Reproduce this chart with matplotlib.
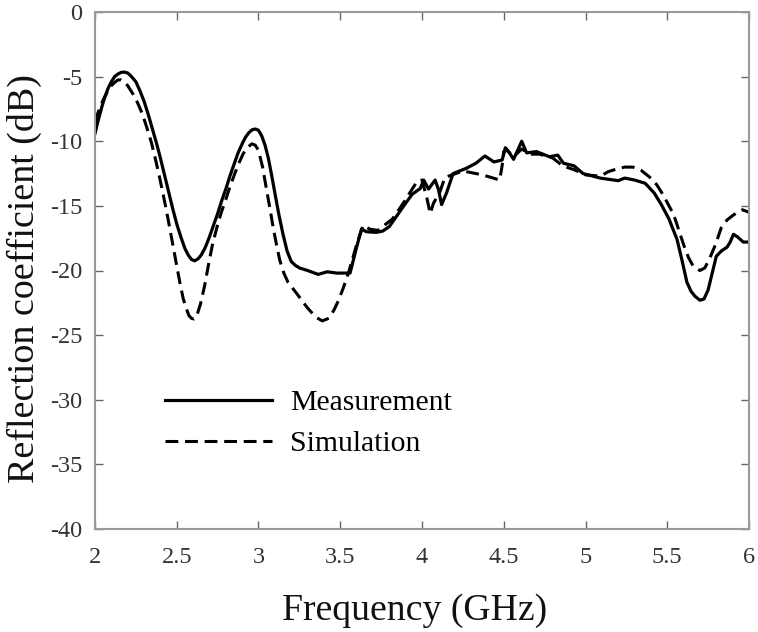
import matplotlib
matplotlib.use('Agg')
import matplotlib.pyplot as plt

# measured curve
meas_x = [2, 2.015, 2.03, 2.045, 2.06, 2.08, 2.1, 2.12, 2.14, 2.16, 2.18, 2.2, 2.22, 2.25, 2.275, 2.3, 2.325, 2.35, 2.375, 2.4,
          2.425, 2.45, 2.475, 2.5, 2.525, 2.55, 2.57, 2.59, 2.61, 2.63, 2.65, 2.675,
          2.7, 2.725, 2.75, 2.775, 2.8, 2.825, 2.85, 2.875, 2.9, 2.92, 2.94, 2.96, 2.98, 3, 3.02, 3.04, 3.06, 3.08, 3.1, 3.125, 3.15,
          3.175, 3.2, 3.225, 3.25, 3.3, 3.365, 3.42, 3.48, 3.56,
          3.6, 3.63, 3.66, 3.72, 3.76, 3.8, 3.85, 3.885, 3.94, 3.99, 4.01, 4.04, 4.08, 4.1, 4.12, 4.15, 4.19,
          4.27, 4.33, 4.385, 4.44, 4.49, 4.51, 4.53, 4.56, 4.61, 4.64, 4.7, 4.72, 4.78, 4.83, 4.865, 4.93,
          4.985, 5.09, 5.2, 5.24, 5.3, 5.365, 5.42, 5.465, 5.51, 5.56, 5.59, 5.62, 5.645, 5.67, 5.7, 5.725, 5.75,
          5.775, 5.8, 5.83, 5.865, 5.885, 5.905, 5.93, 5.965, 6]
meas_y = [-9.4, -8.6, -7.9, -7.2, -6.6, -5.9, -5.4, -5, -4.8, -4.67, -4.65, -4.72, -4.95, -5.4, -6.1, -6.9, -7.9, -9, -10.1, -11.3,
          -12.6, -13.9, -15.2, -16.4, -17.4, -18.3, -18.8, -19.15, -19.25, -19.1, -18.8, -18.2,
          -17.4, -16.5, -15.6, -14.6, -13.7, -12.7, -11.8, -10.9, -10.2, -9.7, -9.35, -9.12, -9.05, -9.15, -9.6, -10.3, -11.3, -12.6, -14, -15.7, -17.2,
          -18.5, -19.3, -19.6, -19.8, -20, -20.3, -20.1, -20.2, -20.2,
          -18.2, -16.8, -17, -17.05, -16.95, -16.6, -15.7, -15.06, -14.1, -13.65, -13, -13.7, -13, -13.7, -14.9, -14, -12.5,
          -12.1, -11.7, -11.14, -11.6, -11.45, -10.5, -10.8, -11.4, -10, -10.9, -10.8, -10.9, -11.2, -11.07, -11.7, -11.9,
          -12.5, -12.85, -13.05, -12.85, -13, -13.25, -14, -14.93, -16, -17.6, -19.2, -20.9, -21.6, -22, -22.3, -22.2, -21.5,
          -20.2, -18.9, -18.5, -18.2, -17.8, -17.2, -17.4, -17.8, -17.8]

# simulated curve, has a break in slope around 4.5
sim_x = [2, 2.015, 2.03, 2.05, 2.07, 2.1, 2.12, 2.14, 2.16, 2.18, 2.2, 2.22, 2.245, 2.27, 2.29, 2.316, 2.345, 2.37, 2.395, 2.42,
         2.445, 2.47, 2.495, 2.52, 2.54, 2.56, 2.575, 2.59, 2.605, 2.62, 2.645, 2.67, 2.695,
         2.72, 2.745, 2.77, 2.8, 2.826, 2.855, 2.88, 2.905, 2.93, 2.96, 2.98, 3, 3.025, 3.05, 3.07, 3.09, 3.11, 3.13, 3.155, 3.18,
         3.235, 3.27, 3.3, 3.35, 3.39, 3.43, 3.46, 3.49, 3.52, 3.55, 3.6,
         3.64, 3.68, 3.73, 3.82, 3.89, 3.97, 4, 4.03, 4.05, 4.07, 4.11, 4.14, 4.25, 4.37, 4.475, 4.49, 4.5,
         4.52, 4.56, 4.61, 4.66, 4.72, 4.8, 4.86, 4.93, 5, 5.09, 5.14, 5.19, 5.24, 5.29, 5.34, 5.39, 5.435, 5.475, 5.54, 5.6, 5.63, 5.66, 5.7,
         5.73, 5.76, 5.795, 5.83, 5.865, 5.905, 5.96, 6]
sim_y = [-8.5, -7.9, -7.4, -6.8, -6.3, -5.7, -5.45, -5.26, -5.25, -5.4, -5.7, -6.1, -6.6, -7.3, -7.9, -8.9, -10.1, -11.4, -12.8, -14.3,
         -15.9, -17.6, -19.3, -21, -22.2, -23, -23.5, -23.7, -23.75, -23.6, -22.6, -21.2, -19.5,
         -17.9, -16.7, -15.6, -14.5, -13.5, -12.5, -11.7, -11, -10.5, -10.2, -10.3, -10.7, -12, -13.8, -15.2, -16.7, -18, -19.2, -20.2, -20.9,
         -21.8, -22.4, -22.9, -23.6, -23.9, -23.7, -23.1, -22.3, -21.3, -20.2, -18,
         -16.5, -16.8, -16.9, -16, -14.7, -13.1, -13, -14.4, -15.6, -14.8, -13.9, -12.8, -12.3, -12.6, -13, -11.9, -10.8,
         -10.7, -11.2, -10.6, -11, -11, -11.3, -11.9, -12.2, -12.6, -12.7, -12.35, -12.15, -12, -12, -12.25, -12.75, -13.35, -14.15, -15.7, -18, -19, -19.7, -20,
         -19.8, -19.05, -18, -16.7, -16.1, -15.7, -15.3, -15.5]

x_ticks = [2, 2.5, 3, 3.5, 4, 4.5, 5, 5.5, 6]
x_labels = ['2', '2.5', '3', '3.5', '4', '4.5', '5', '5.5', '6']
y_ticks = [0, -5, -10, -15, -20, -25, -30, -35, -40]

plt.rcParams['font.family'] = ['Liberation Serif', 'DejaVu Serif']
plt.rcParams['axes.unicode_minus'] = False

fig = plt.figure(figsize=(7.58, 6.32), dpi=100)
ax = fig.add_axes([95 / 758, 1 - 529 / 632, 654 / 758, 517 / 632])

ax.plot(meas_x, meas_y, color='black', lw=2.3, label='Measurement')
ax.plot(sim_x, sim_y, color='black', lw=2.2, ls=(0, (4.2, 2.2)), label='Simulation')

ax.set_xlim(2, 6)
ax.set_ylim(-40, 0)
ax.set_xticks(x_ticks)
ax.set_xticklabels(x_labels)
ax.set_yticks(y_ticks)
ax.tick_params(direction='in', length=6, width=1, color='#666666', labelsize=17.5,
               top=True, right=True, labelcolor='#333333')
ax.tick_params(axis='x', pad=13)
ax.tick_params(axis='y', pad=9)
for s in ax.spines.values():
    s.set_color('#999999')
    s.set_linewidth(1.5)

ax.set_xlabel('Frequency (GHz)', fontsize=27.2, labelpad=18, x=0.489, color='#111111')
ax.set_ylabel('Reflection coefficient (dB)', fontsize=27.4, labelpad=6, y=0.485, color='#111111')

ax.legend(loc='lower left', bbox_to_anchor=(0.107, 0.139), frameon=False, fontsize=21.4,
          handlelength=3.6, labelspacing=0.47, handletextpad=0.6, borderpad=0, borderaxespad=0)

fig.savefig('out.png', dpi=100)
